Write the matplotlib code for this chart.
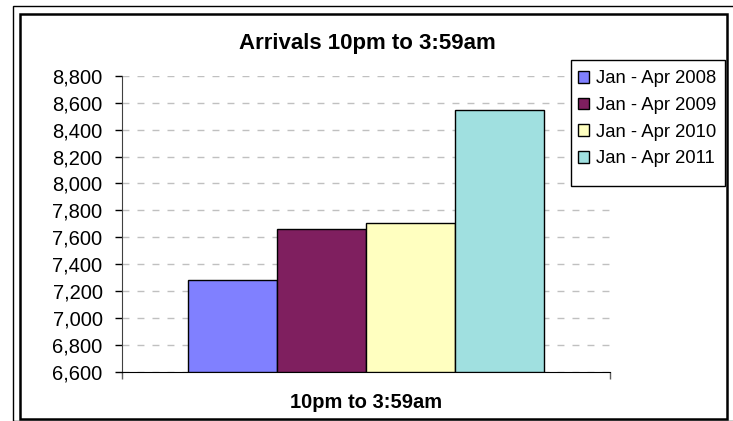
import matplotlib
matplotlib.use("Agg")
import matplotlib.pyplot as plt
from matplotlib.patches import Rectangle
from matplotlib.ticker import FuncFormatter, MultipleLocator

plt.rcParams['font.family'] = ['Liberation Sans', 'DejaVu Sans']

title = "Arrivals 10pm to 3:59am"
category = "10pm to 3:59am"
series = ["Jan - Apr 2008", "Jan - Apr 2009", "Jan - Apr 2010", "Jan - Apr 2011"]
values = [7280, 7660, 7705, 8545]
colors = ["#8080FF", "#7F1F5F", "#FFFFC0", "#A0E0E0"]
y_min, y_max, y_step = 6600, 8800, 200

W, H = 733, 421
fig = plt.figure(figsize=(W / 100, H / 100), dpi=100)

# frames
fig.patches.append(Rectangle((12.5 / W, 0), 1, 1 - 6 / H, transform=fig.transFigure,
                             fill=False, edgecolor="black", lw=1.0))
fig.patches.append(Rectangle((20 / W, 1 - 419 / H), (727 - 20) / W, (419 - 14) / H,
                             transform=fig.transFigure, fill=False, edgecolor="black", lw=1.8))

ax = fig.add_axes([122 / W, 1 - 371.5 / H, (610 - 122) / W, (371.5 - 76) / H])

n = len(values)
bw = 0.728 / n
for i, (v, c, s) in enumerate(zip(values, colors, series)):
    x = -0.364 + bw * (i + 0.5)
    ax.bar(x, v - y_min, bottom=y_min, width=bw, color=c, edgecolor="black",
           linewidth=1.0, label=s, zorder=3)

ax.set_xlim(-0.5, 0.5)
ax.set_ylim(y_min, y_max)
ax.yaxis.set_major_locator(MultipleLocator(y_step))
ax.yaxis.set_major_formatter(FuncFormatter(lambda v, p: f"{int(v):,}"))
ax.set_xticks([-0.5, 0.5])
ax.set_xticklabels(["", ""])
ax.tick_params(axis='x', direction='out', length=5, color="#606060", width=1)
ax.tick_params(axis='y', direction='out', length=5, color="black", width=1,
               labelsize=14.5, pad=9)
ax.grid(axis='y', color="#C0C0C0", linestyle=(0, (5.0, 5.8)), linewidth=1.0, zorder=0)
for side in ["top", "right"]:
    ax.spines[side].set_visible(False)
ax.spines["left"].set_color("#404040")
ax.spines["bottom"].set_color("black")
ax.set_axisbelow(True)

fig.text(367 / W, 1 - 43 / H, title, ha="center", va="center", fontsize=16,
         fontweight="bold")
fig.text(366 / W, 1 - 403 / H, category, ha="center", va="center", fontsize=14.5,
         fontweight="bold")

# legend frame (drawn separately to match the original's padding)
fig.patches.append(Rectangle((571 / W, 1 - 186 / H), (725 - 571) / W, (186 - 60) / H,
                             transform=fig.transFigure, facecolor="white",
                             edgecolor="black", lw=1.0, zorder=5))
handles, labels = ax.get_legend_handles_labels()
leg = fig.legend(handles, labels, loc="upper left", bbox_to_anchor=(571 / W, 1 - 63 / H),
                 bbox_transform=fig.transFigure, borderaxespad=0, frameon=False,
                 fontsize=13.3, handlelength=0.6, handleheight=0.6,
                 handletextpad=0.35, labelspacing=0.52, borderpad=0.4)
leg.set_zorder(6)

fig.savefig("out.png", dpi=100)
